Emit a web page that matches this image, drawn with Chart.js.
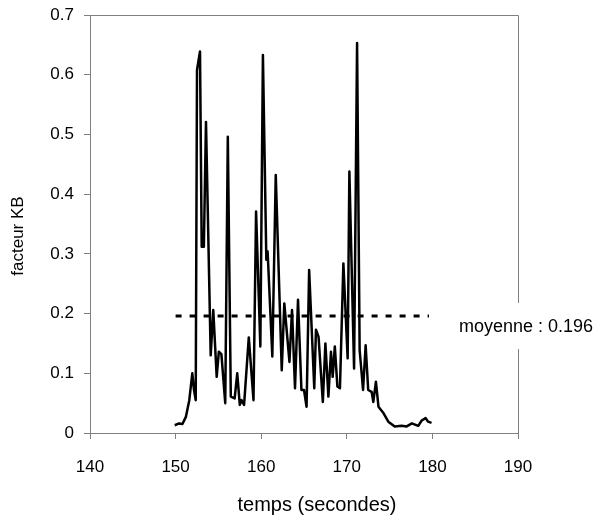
<!DOCTYPE html>
<html><head><meta charset="utf-8">
<script src="https://cdn.jsdelivr.net/npm/chart.js@4.4.1/dist/chart.umd.min.js"></script>
<style>html,body{margin:0;padding:0;background:#fff}canvas{display:block}</style>
</head><body>
<div style="width:607px;height:522px"><canvas id="c" width="607" height="522"></canvas></div>
<script>
// ---- data ----
const times = [149.9,150.4,150.8,151.2,151.6,151.95,152.15,152.35,152.5,152.85,153.05,153.3,153.55,154.1,154.4,154.8,155.05,155.35,155.8,156.1,156.45,156.9,157.2,157.5,157.7,158.0,158.55,159.1,159.4,159.9,160.2,160.6,160.75,161.3,161.7,162.4,162.7,163.3,163.6,163.95,164.3,164.7,165.0,165.3,165.6,166.2,166.4,166.7,167.2,167.5,167.85,168.15,168.35,168.6,168.9,169.2,169.6,170.1,170.3,170.85,171.2,171.5,171.9,172.2,172.5,172.9,173.1,173.4,173.7,174.3,174.85,175.6,176.4,177.0,177.6,178.35,178.75,179.2,179.5,179.9];
const kbValues = [0.013,0.016,0.015,0.027,0.055,0.10,0.072,0.055,0.608,0.639,0.312,0.312,0.521,0.13,0.206,0.094,0.136,0.132,0.05,0.496,0.061,0.058,0.10,0.047,0.055,0.047,0.16,0.055,0.371,0.145,0.633,0.29,0.304,0.128,0.432,0.105,0.217,0.119,0.206,0.075,0.223,0.072,0.072,0.044,0.273,0.075,0.173,0.161,0.052,0.150,0.061,0.136,0.094,0.145,0.078,0.075,0.284,0.125,0.438,0.108,0.653,0.139,0.072,0.147,0.072,0.069,0.052,0.086,0.044,0.033,0.019,0.011,0.012,0.011,0.016,0.012,0.021,0.025,0.019,0.017];
const meanValue = 0.196;
const meanStartEnd = [150, 179.6];
const xTickValues = [140,150,160,170,180,190];
const yTickValues = [0,0.1,0.2,0.3,0.4,0.5,0.6,0.7];
const meanLabel = 'moyenne : 0.196';
const xTitle = 'temps (secondes)';
const yTitle = 'facteur KB';

const FONT = 'Liberation Sans, Arial, sans-serif';
const GREY = '#808080';

const seriesPoints = times.map((t, i) => ({x: t, y: kbValues[i]}));
const meanPoints = meanStartEnd.map(t => ({x: t, y: meanValue}));

const decorPlugin = {
  id: 'decor',
  afterDraw(chart) {
    const ctx = chart.ctx, a = chart.chartArea;
    ctx.save();
    // frame top & right
    ctx.strokeStyle = GREY; ctx.lineWidth = 1;
    ctx.beginPath();
    ctx.moveTo(a.left, a.top + 0.5); ctx.lineTo(a.right + 0.5, a.top + 0.5);
    ctx.lineTo(a.right + 0.5, a.bottom);
    ctx.stroke();
    // mean label box
    const yMean = chart.scales.y.getPixelForValue(meanValue);
    ctx.font = '18px ' + FONT;
    ctx.fillStyle = '#fff';
    ctx.fillRect(a.right - 65, yMean - 13, 160, 46);
    ctx.fillStyle = '#000';
    ctx.textBaseline = 'middle';
    ctx.textAlign = 'left';
    ctx.fillText(meanLabel, 459, yMean + 11);
    // axis titles
    ctx.textAlign = 'center';
    ctx.font = '20px ' + FONT;
    ctx.fillText(xTitle, 317, 505);
    ctx.font = '17px ' + FONT;
    ctx.translate(18, 236);
    ctx.rotate(-Math.PI / 2);
    ctx.fillText(yTitle, 0, 0);
    ctx.restore();
  }
};

new Chart(document.getElementById('c'), {
  type: 'line',
  data: {
    datasets: [
      {data: seriesPoints, borderColor: '#000', borderWidth: 2.5, pointRadius: 0, tension: 0, fill: false, borderJoinStyle: 'round'},
      {data: meanPoints, borderColor: '#000', borderWidth: 3, borderDash: [6, 8], borderCapStyle: 'butt', pointRadius: 0, fill: false}
    ]
  },
  options: {
    responsive: false, animation: false, devicePixelRatio: 1,
    layout: {padding: {top: 15, right: 89, left: 0, bottom: 0}},
    plugins: {legend: {display: false}, tooltip: {enabled: false}},
    scales: {
      x: {
        type: 'linear', min: 140, max: 190,
        afterBuildTicks: s => { s.ticks = xTickValues.map(v => ({value: v})); },
        afterFit: s => { s.height = 89; s.paddingLeft = 0; s.paddingRight = 0; },
        grid: {drawOnChartArea: false, drawTicks: true, tickLength: 6, color: GREY},
        border: {color: GREY, width: 1},
        ticks: {color: '#000', font: {family: FONT, size: 17}, padding: 18, maxRotation: 0, callback: v => String(v)}
      },
      y: {
        type: 'linear', min: 0, max: 0.7,
        afterBuildTicks: s => { s.ticks = yTickValues.map(v => ({value: v})); },
        afterFit: s => { s.width = 90; s.paddingTop = 0; s.paddingBottom = 0; },
        grid: {drawOnChartArea: false, drawTicks: true, tickLength: 6, color: GREY},
        border: {color: GREY, width: 1},
        ticks: {color: '#000', font: {family: FONT, size: 17}, padding: 10, callback: v => String(Math.round(v * 10) / 10)}
      }
    }
  },
  plugins: [decorPlugin]
});
</script>
</body></html>
